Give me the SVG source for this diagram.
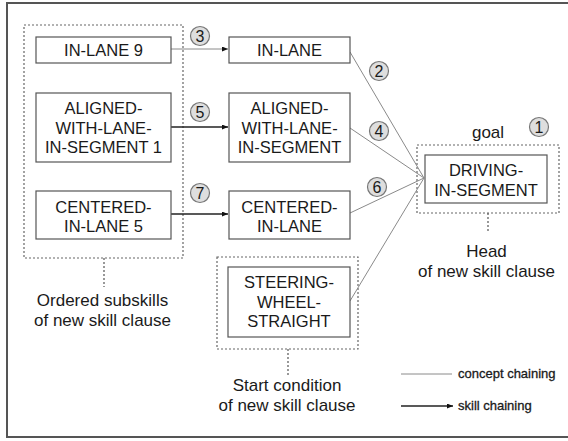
<svg xmlns="http://www.w3.org/2000/svg" width="568" height="441" viewBox="0 0 568 441">
  <style>
    text { font-family: "Liberation Sans", Arial, sans-serif; fill: #1a1a1a; }
    .box { fill: #ffffff; stroke: #555555; stroke-width: 1.2; }
    .node text { font-size: 16.5px; text-anchor: middle; }
    .group { fill: none; stroke: #666666; stroke-width: 1.2; stroke-dasharray: 2 2; }
    .lead { fill: none; stroke: #555555; stroke-width: 1.2; stroke-dasharray: 2 2; }
    .concept { fill: none; stroke: #8a8a8a; stroke-width: 1; }
    .skill { fill: none; stroke: #222222; stroke-width: 1.3; }
    .step circle { fill: #dedede; stroke: #777777; stroke-width: 1.2; }
    .step text { font-size: 16px; text-anchor: middle; }
    .label { font-size: 17px; text-anchor: middle; }
    .legend { font-size: 13px; stroke: #1a1a1a; stroke-width: 0.3; }
  </style>
  <defs>
    <marker id="arrow" viewBox="0 0 6 5" refX="6" refY="2.5" markerWidth="6" markerHeight="5" markerUnits="userSpaceOnUse" orient="auto">
      <path d="M0,0 L6,2.5 L0,5 Z" fill="#111111"/>
    </marker>
  </defs>

  <!-- outer frame -->
  <rect x="7" y="3" width="570" height="434" fill="#ffffff" stroke="#555555" stroke-width="2"/>

  <!-- dashed grouping boxes -->
  <rect id="subskills-group" class="group" x="24" y="25" width="159" height="233"/>
  <rect id="goal-group" class="group" x="417" y="145" width="142" height="68"/>
  <rect id="start-group" class="group" x="217" y="257" width="141" height="92"/>

  <!-- connectors -->
  <g id="connectors">
    <line class="concept" x1="171" y1="49" x2="228" y2="49" marker-end="url(#arrow)"/>
    <line class="skill" x1="171" y1="127" x2="228" y2="127" marker-end="url(#arrow)"/>
    <line class="skill" x1="171" y1="214" x2="228" y2="214" marker-end="url(#arrow)"/>
    <line class="concept" x1="350" y1="52" x2="424" y2="178"/>
    <line class="concept" x1="350" y1="128" x2="424" y2="178"/>
    <line class="concept" x1="350" y1="213" x2="424" y2="178"/>
    <line class="concept" x1="350" y1="301" x2="424" y2="178"/>
    <line class="lead" x1="104" y1="258" x2="104" y2="287"/>
    <line class="lead" x1="488" y1="213" x2="488" y2="233"/>
    <line class="lead" x1="288" y1="349" x2="288" y2="377"/>
  </g>

  <!-- ordered subskills -->
  <g id="in-lane-9" class="node">
    <rect class="box" x="36" y="37" width="135" height="26"/>
    <text x="103.5" y="56">IN-LANE 9</text>
  </g>
  <g id="aligned-1" class="node">
    <rect class="box" x="36" y="93" width="135" height="69"/>
    <text x="103.5" y="114">ALIGNED-</text>
    <text x="103.5" y="133.5">WITH-LANE-</text>
    <text x="103.5" y="153">IN-SEGMENT 1</text>
  </g>
  <g id="centered-5" class="node">
    <rect class="box" x="36" y="191" width="135" height="48"/>
    <text x="103.5" y="213">CENTERED-</text>
    <text x="103.5" y="232">IN-LANE 5</text>
  </g>

  <!-- concepts -->
  <g id="in-lane" class="node">
    <rect class="box" x="229" y="37" width="121" height="26"/>
    <text x="289.5" y="56">IN-LANE</text>
  </g>
  <g id="aligned" class="node">
    <rect class="box" x="229" y="93" width="121" height="69"/>
    <text x="289.5" y="114">ALIGNED-</text>
    <text x="289.5" y="133.5">WITH-LANE-</text>
    <text x="289.5" y="153">IN-SEGMENT</text>
  </g>
  <g id="centered" class="node">
    <rect class="box" x="229" y="191" width="121" height="48"/>
    <text x="289.5" y="213">CENTERED-</text>
    <text x="289.5" y="232">IN-LANE</text>
  </g>
  <g id="steering" class="node">
    <rect class="box" x="228" y="267" width="122" height="70"/>
    <text x="289" y="288">STEERING-</text>
    <text x="289" y="307.5">WHEEL-</text>
    <text x="289" y="327">STRAIGHT</text>
  </g>
  <g id="driving" class="node">
    <rect class="box" x="425" y="155" width="122" height="48"/>
    <text x="486" y="176">DRIVING-</text>
    <text x="486" y="196">IN-SEGMENT</text>
  </g>

  <!-- step numbers -->
  <g id="step-1" class="step"><circle cx="539" cy="127" r="9.5"/><text x="539" y="132.8">1</text></g>
  <g id="step-2" class="step"><circle cx="379" cy="71" r="9.5"/><text x="379" y="76.8">2</text></g>
  <g id="step-3" class="step"><circle cx="200" cy="36" r="9.5"/><text x="200" y="41.8">3</text></g>
  <g id="step-4" class="step"><circle cx="379" cy="131" r="9.5"/><text x="379" y="136.8">4</text></g>
  <g id="step-5" class="step"><circle cx="200" cy="112" r="9.5"/><text x="200" y="117.8">5</text></g>
  <g id="step-6" class="step"><circle cx="377" cy="187" r="9.5"/><text x="377" y="192.8">6</text></g>
  <g id="step-7" class="step"><circle cx="200" cy="193" r="9.5"/><text x="200" y="198.8">7</text></g>

  <!-- captions -->
  <text class="label" x="488" y="138">goal</text>
  <text class="label" x="486.5" y="257">Head</text>
  <text class="label" x="486.5" y="277">of new skill clause</text>
  <text class="label" x="102.5" y="306">Ordered subskills</text>
  <text class="label" x="102.5" y="326">of new skill clause</text>
  <text class="label" x="287" y="391">Start condition</text>
  <text class="label" x="287" y="411">of new skill clause</text>

  <!-- legend -->
  <g id="legend">
    <line class="concept" x1="401" y1="374" x2="452" y2="374"/>
    <text class="legend" x="458" y="378">concept chaining</text>
    <line class="skill" x1="401" y1="406" x2="453" y2="406" marker-end="url(#arrow)"/>
    <text class="legend" x="458" y="410">skill chaining</text>
  </g>
</svg>
